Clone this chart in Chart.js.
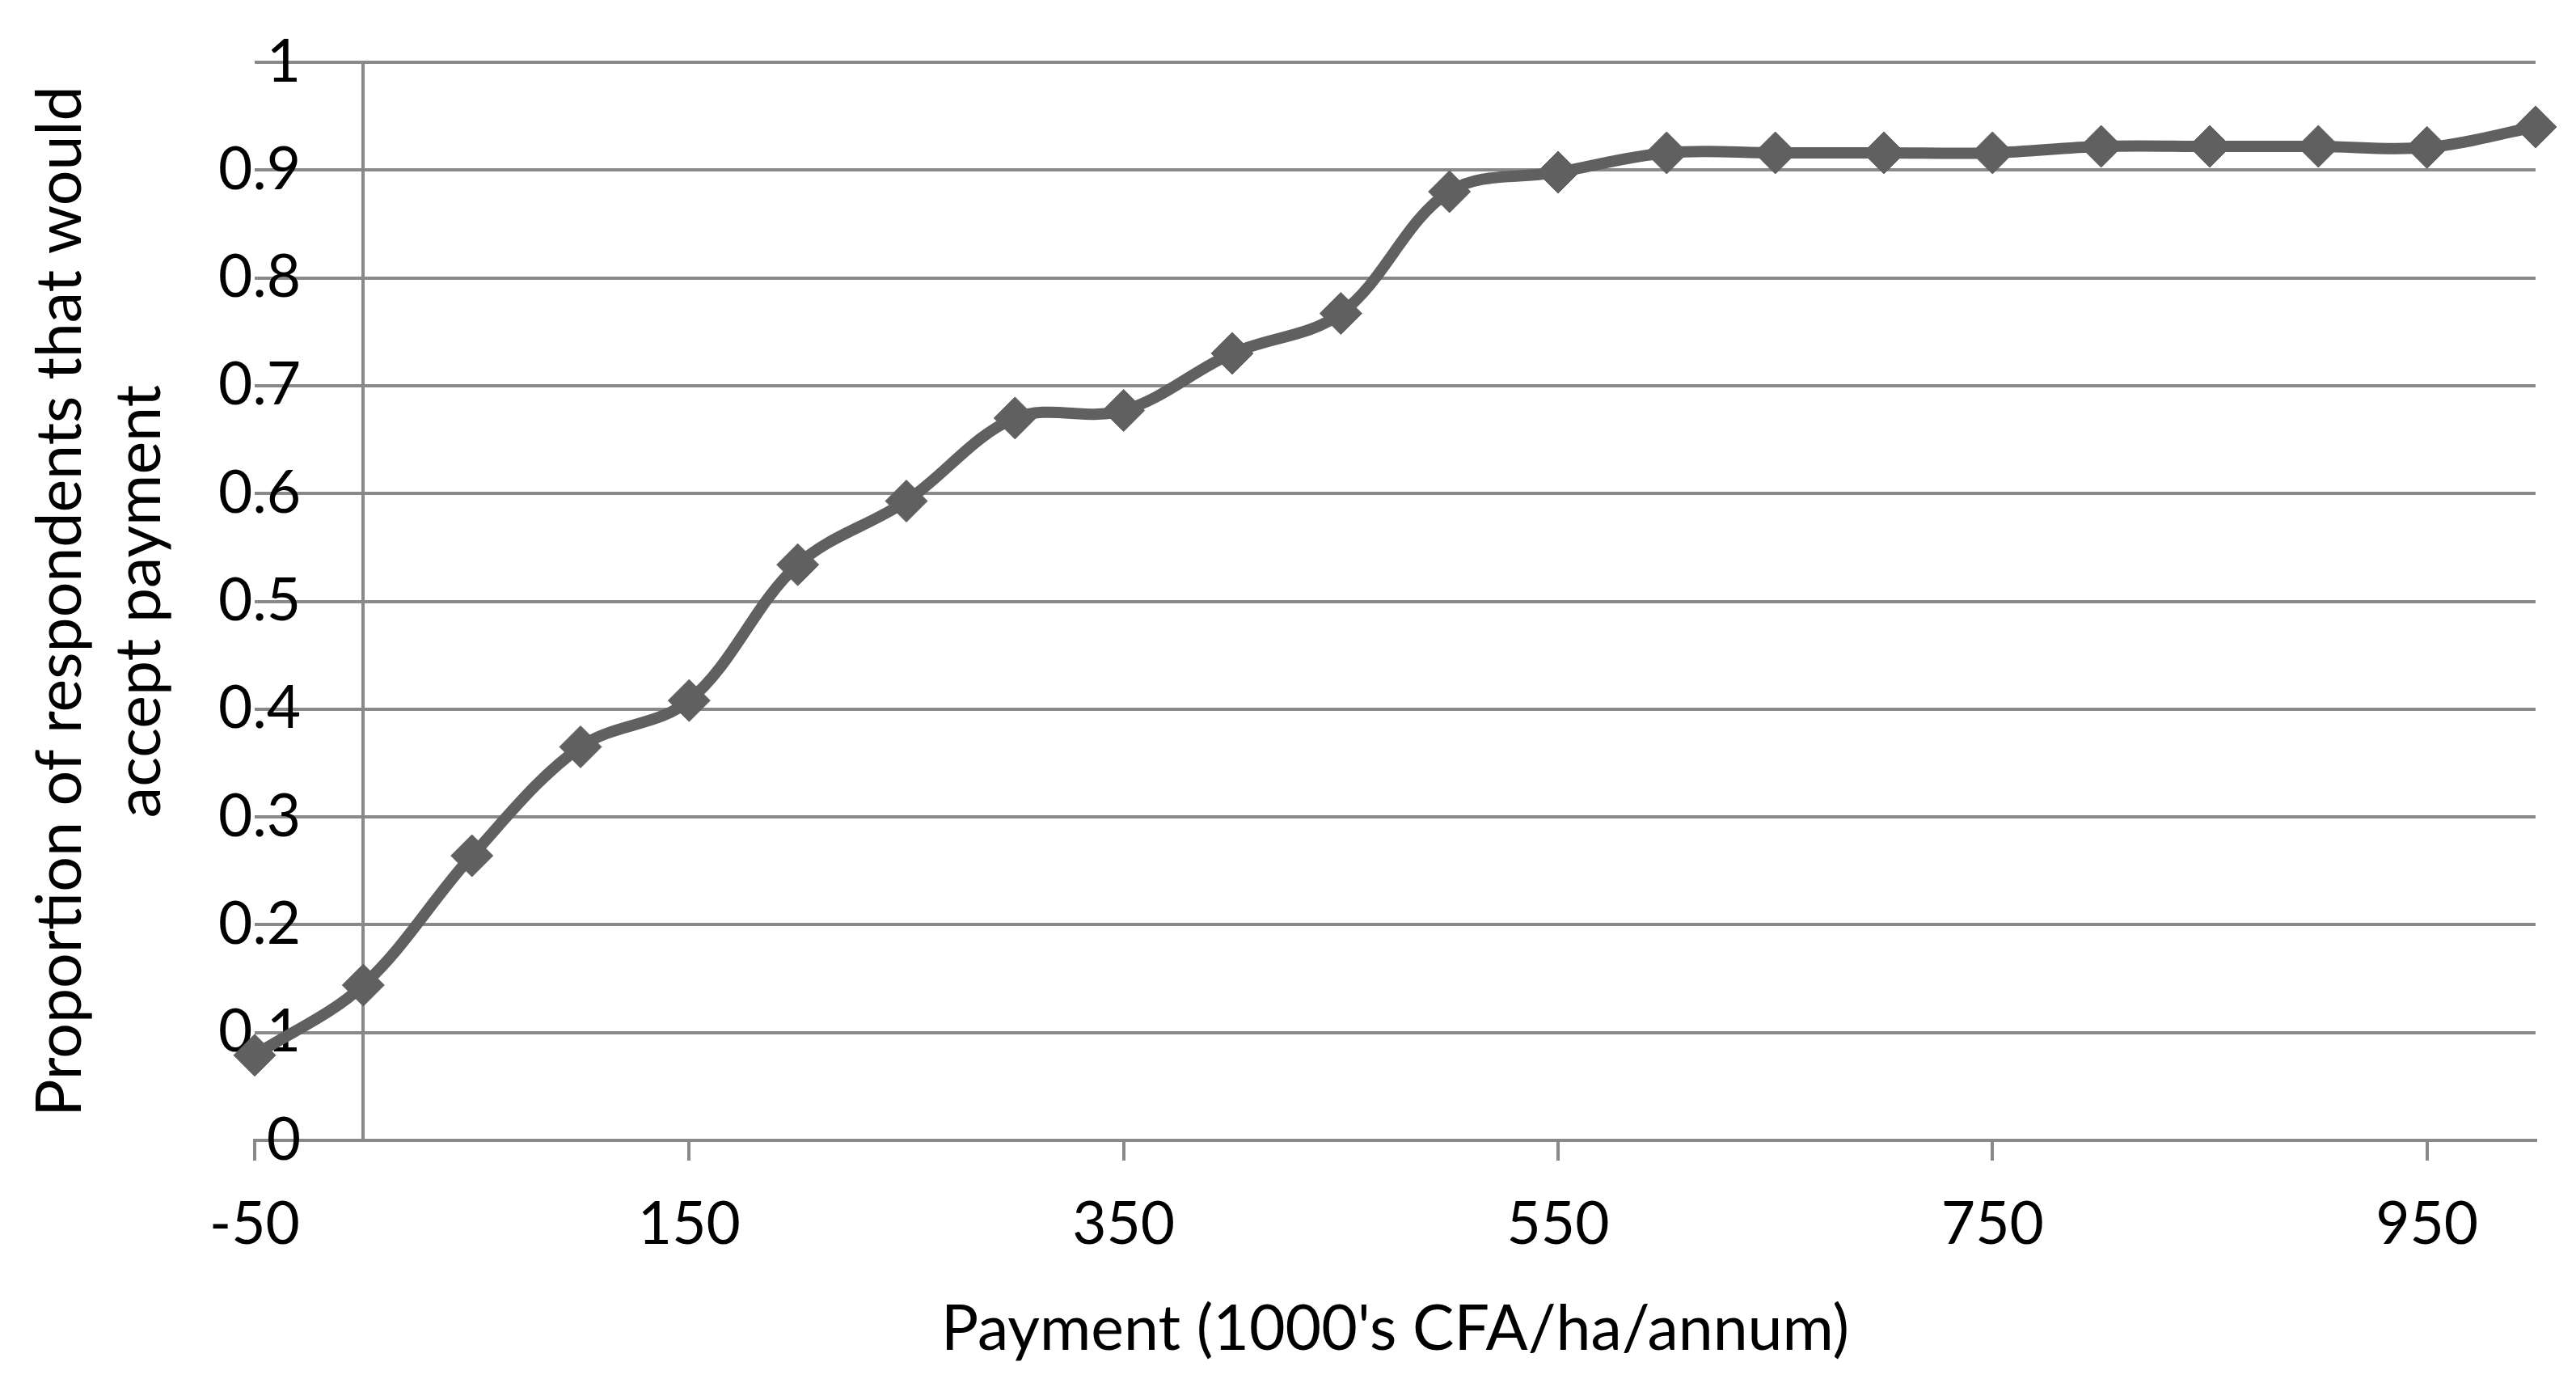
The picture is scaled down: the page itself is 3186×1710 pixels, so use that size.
<!DOCTYPE html>
<html>
<head>
<meta charset="utf-8">
<script src="https://cdn.jsdelivr.net/npm/chart.js@4/dist/chart.umd.min.js"></script>
<style>
  html, body { margin: 0; padding: 0; background: #fff; }
  #wrap { width: 3186px; height: 1710px; }
</style>
</head>
<body>
<div id="wrap"><canvas id="chart" width="3186" height="1710"></canvas></div>
<script>
// payment levels (1000's CFA/ha/annum) and share of respondents accepting
const payment = [-50, 0, 50, 100, 150, 200, 250, 300, 350, 400, 450,
                 500, 550, 600, 650, 700, 750, 800, 850, 900, 950, 1000];
const proportion = [0.079, 0.144, 0.264, 0.365, 0.408, 0.534, 0.593, 0.670, 0.677, 0.730, 0.767,
                    0.880, 0.898, 0.916, 0.916, 0.916, 0.916, 0.922, 0.922, 0.922, 0.921, 0.940];

const xTicks = [-50, 150, 350, 550, 750, 950];
const yTicks = [0, 0.1, 0.2, 0.3, 0.4, 0.5, 0.6, 0.7, 0.8, 0.9, 1];
const xMin = -50;
const xMax = 1000;
const yAxisCrossesAt = 0;

const xTitle = "Payment (1000's CFA/ha/annum)";
const yTitle = ['Proportion of respondents that would', 'accept payment'];

const gridColor = '#898989';
const lineColor = '#606060';
const fontFamily = 'Lato, "Open Sans", sans-serif';
const tickFont = { family: fontFamily, size: 73 };
const titleFont = { family: fontFamily, size: 77 };

const canvas = document.getElementById('chart');

// y labels sit inside the plot, right edge 57px right of the plot's left edge
const measure = canvas.getContext('2d');
measure.font = '73px ' + fontFamily;
const widestY = Math.max(...yTicks.map(v => measure.measureText(String(v)).width));

new Chart(canvas, {
    type: 'scatter',
    data: {
        datasets: [{
            data: payment.map((x, i) => ({ x: x, y: proportion[i] })),
            showLine: true,
            tension: 0.35,
            borderColor: lineColor,
            borderWidth: 14,
            pointStyle: 'rectRot',
            pointRadius: 26,
            pointBackgroundColor: lineColor,
            pointBorderColor: lineColor,
            pointBorderWidth: 1,
            clip: false
        }]
    },
    options: {
        responsive: false,
        devicePixelRatio: 1,
        animation: false,
        layout: { padding: { top: 77, right: 50, bottom: 0, left: 0 } },
        plugins: {
            legend: { display: false },
            tooltip: { enabled: false }
        },
        scales: {
            x: {
                type: 'linear',
                position: 'bottom',
                min: xMin,
                max: xMax,
                afterBuildTicks: (s) => { s.ticks = xTicks.map(v => ({ value: v })); },
                afterFit: (s) => { s.height = 300; },
                ticks: {
                    autoSkip: false,
                    maxRotation: 0,
                    padding: 36,
                    color: '#000',
                    font: tickFont,
                    callback: (v) => String(v)
                },
                grid: {
                    drawOnChartArea: false,
                    tickLength: 25,
                    color: gridColor,
                    lineWidth: 4
                },
                border: { display: true, color: gridColor, width: 4 },
                title: {
                    display: true,
                    text: xTitle,
                    color: '#000',
                    font: titleFont,
                    padding: { top: 41, bottom: 20 }
                }
            },
            y: {
                type: 'linear',
                position: 'left',
                min: 0,
                max: 1,
                afterBuildTicks: (s) => { s.ticks = yTicks.map(v => ({ value: v })); },
                afterFit: (s) => { s.width = 315; },
                ticks: {
                    mirror: true,
                    crossAlign: 'far',
                    padding: 57 - widestY,
                    color: '#000',
                    font: tickFont,
                    callback: (v) => String(v)
                },
                grid: { color: gridColor, lineWidth: 4, drawTicks: false },
                border: { display: false },
                title: {
                    display: true,
                    text: yTitle,
                    color: '#000',
                    font: { family: fontFamily, size: 77, lineHeight: 1.27 },
                    padding: { top: 26, bottom: 0 }
                }
            },
            // vertical axis line drawn where x = 0, like the original
            yCross: {
                axis: 'y',
                type: 'linear',
                position: { x: yAxisCrossesAt },
                min: 0,
                max: 1,
                ticks: { display: false },
                grid: { display: false, drawTicks: false },
                border: { display: true, color: gridColor, width: 4 }
            }
        }
    }
});
</script>
</body>
</html>
